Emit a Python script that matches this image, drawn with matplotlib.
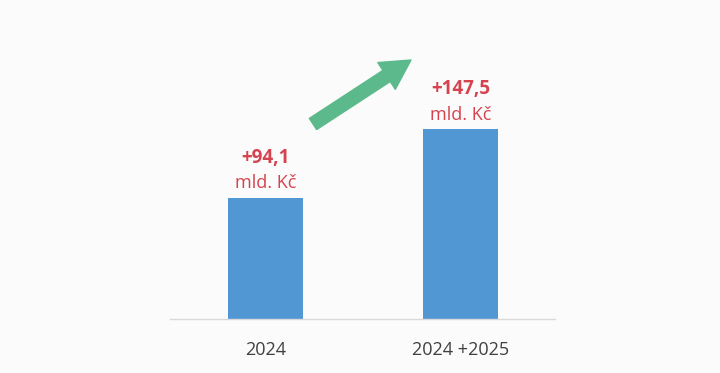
import matplotlib.pyplot as plt

plt.rcParams['font.family'] = ['Open Sans', 'DejaVu Sans']

categories = ['2024', '2024 +2025']
values = [94.1, 147.5]
value_labels = ['+94,1', '+147,5']
unit = 'mld. Kč'

bg = '#fbfbfb'
fig = plt.figure(figsize=(7.2, 3.73), dpi=100, facecolor=bg)
ax = fig.add_axes([0.2361, 0.1448, 0.5347, 0.8016], facecolor=bg)

x = range(len(values))
ax.bar(x, values, width=0.385, color='#5197d3', zorder=2)

for xi, v, lab in zip(x, values, value_labels):
    ax.text(xi, v + 31, lab, ha='center', va='center', fontsize=13.5,
            fontweight='bold', color='#d5434f')
    ax.text(xi, v + 11.5, unit, ha='center', va='center', fontsize=13,
            color='#d5434f')

ax.set_xlim(-0.49, 1.485)
ax.set_ylim(0, 232.5)
ax.set_xticks(list(x))
ax.set_xticklabels(categories, fontsize=13, color='#404040')
ax.tick_params(axis='x', length=0, pad=16)
ax.set_yticks([])
for s in ['top', 'right', 'left']:
    ax.spines[s].set_visible(False)
ax.spines['bottom'].set_color('#d9d9d9')
ax.spines['bottom'].set_linewidth(1)

# green trend arrow
ax.annotate('', xy=(411, 313), xytext=(313, 249),
            xycoords='figure pixels', textcoords='figure pixels',
            arrowprops=dict(arrowstyle='simple,head_length=1.05,head_width=1.15,tail_width=0.48',
                            color='#5cb98c', shrinkA=0, shrinkB=0, mutation_scale=20))

fig.savefig('out.png', dpi=100, facecolor=bg)
